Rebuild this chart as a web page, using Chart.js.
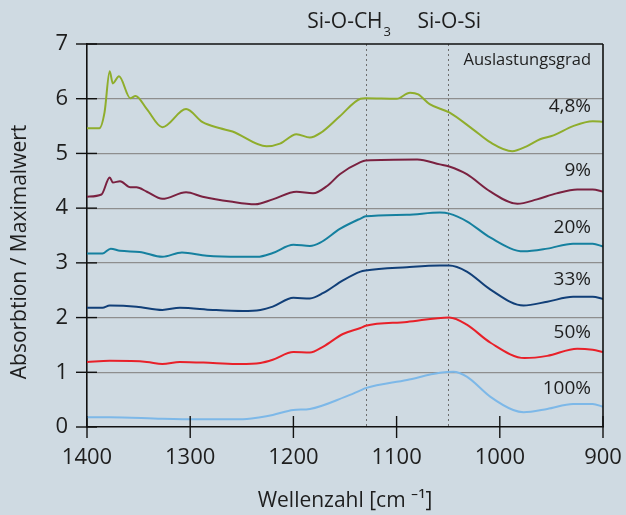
<!DOCTYPE html>
<html>
<head>
<meta charset="utf-8">
<script src="https://cdn.jsdelivr.net/npm/chart.js@4/dist/chart.umd.min.js"></script>
<style>
  html, body { margin: 0; padding: 0; background: #cfdae2; }
  #wrap { width: 626px; height: 515px; position: relative; }
</style>
</head>
<body>
<div id="wrap"><canvas id="chartSpektren"></canvas></div>
<script>
// Spektren je Auslastungsgrad (Wellenzahl / Absorption)
const labels = ['4,8%', '9%', '20%', '33%', '50%', '100%'];

const wz48 = [1400, 1388, 1383, 1378, 1375, 1369, 1358, 1353, 1342, 1327, 1304, 1288, 1271, 1259, 1226, 1213, 1197, 1184, 1174, 1155, 1135, 1130, 1100, 1087, 1079, 1068, 1049, 1026, 1009, 988, 974, 961, 948, 929, 910, 900];
const ab48 = [5.46, 5.46, 5.75, 6.50, 6.28, 6.41, 6.01, 6.05, 5.81, 5.48, 5.81, 5.57, 5.46, 5.40, 5.13, 5.18, 5.35, 5.29, 5.37, 5.68, 6.00, 6.01, 6.00, 6.11, 6.08, 5.90, 5.75, 5.44, 5.20, 5.04, 5.13, 5.26, 5.33, 5.50, 5.59, 5.58];

const wz9 = [1400, 1386, 1378, 1375, 1368, 1358, 1352, 1342, 1327, 1304, 1288, 1261, 1237, 1220, 1197, 1181, 1167, 1155, 1135, 1130, 1080, 1058, 1049, 1032, 1009, 983, 964, 945, 925, 910, 900];
const ab9 = [4.21, 4.25, 4.56, 4.47, 4.49, 4.38, 4.38, 4.30, 4.17, 4.29, 4.21, 4.12, 4.07, 4.16, 4.30, 4.27, 4.41, 4.62, 4.84, 4.87, 4.89, 4.80, 4.76, 4.62, 4.30, 4.08, 4.16, 4.27, 4.34, 4.34, 4.30];

const wz20 = [1400, 1385, 1377, 1368, 1349, 1327, 1308, 1284, 1252, 1235, 1220, 1200, 1184, 1174, 1155, 1135, 1130, 1090, 1058, 1049, 1032, 1009, 977, 954, 929, 910, 900];
const ab20 = [3.17, 3.17, 3.26, 3.22, 3.20, 3.11, 3.19, 3.13, 3.11, 3.11, 3.18, 3.33, 3.31, 3.37, 3.62, 3.81, 3.85, 3.88, 3.92, 3.90, 3.76, 3.46, 3.21, 3.26, 3.35, 3.35, 3.30];

const wz33 = [1400, 1385, 1378, 1352, 1327, 1310, 1278, 1249, 1232, 1220, 1200, 1184, 1171, 1152, 1135, 1130, 1090, 1058, 1049, 1032, 1009, 977, 954, 929, 910, 900];
const ab33 = [2.18, 2.18, 2.22, 2.20, 2.14, 2.18, 2.14, 2.12, 2.14, 2.20, 2.36, 2.35, 2.45, 2.68, 2.84, 2.86, 2.92, 2.95, 2.95, 2.84, 2.51, 2.22, 2.29, 2.38, 2.38, 2.34];

const wz50 = [1400, 1378, 1342, 1327, 1310, 1278, 1252, 1232, 1220, 1200, 1184, 1171, 1152, 1135, 1130, 1090, 1049, 1032, 1009, 976, 954, 925, 910, 900];
const ab50 = [1.19, 1.21, 1.19, 1.15, 1.19, 1.17, 1.15, 1.17, 1.23, 1.37, 1.36, 1.47, 1.70, 1.81, 1.85, 1.92, 2.00, 1.87, 1.54, 1.26, 1.30, 1.43, 1.41, 1.37];

const wz100 = [1400, 1378, 1327, 1293, 1252, 1232, 1220, 1200, 1184, 1150, 1135, 1130, 1090, 1058, 1045, 1032, 1009, 987, 977, 954, 929, 910, 900];
const ab100 = [0.18, 0.18, 0.15, 0.14, 0.14, 0.18, 0.22, 0.31, 0.33, 0.55, 0.67, 0.71, 0.86, 0.99, 1.01, 0.92, 0.55, 0.31, 0.27, 0.33, 0.42, 0.42, 0.37];

// Beschriftung rechts (Hoehe in Datenwerten)
const labelY = [5.86, 4.69, 3.64, 2.69, 1.72, 0.71];
const colors = ['#8fad2c', '#7a2140', '#15809f', '#113f78', '#e82029', '#7db8e8'];

// Banden (gestrichelte Linien) und Kopfbeschriftung: [Text, Index]
const bandX = [1130, 1050];
const bandLabels = [['Si-O-CH', '3'], ['Si-O-Si', '']];
const bandLabelX = [1146, 1049];

const xTicks = [1400, 1300, 1200, 1100, 1000, 900];
const yTicks = [0, 1, 2, 3, 4, 5, 6, 7];

const FONT = "'Open Sans', 'Noto Sans', sans-serif";
const TXT = '#1e1e1e';
const seriesX = [wz48, wz9, wz20, wz33, wz50, wz100];
const seriesY = [ab48, ab9, ab20, ab33, ab50, ab100];

const datasets = labels.map((lab, i) => ({
    label: lab,
    data: seriesX[i].map((x, j) => ({ x: x, y: seriesY[i][j] })),
    borderColor: colors[i],
    borderWidth: 2,
    pointRadius: 0,
    fill: false,
    tension: 0.4,
    cubicInterpolationMode: 'monotone'
}));

const decor = {
    id: 'decor',
    beforeDatasetsDraw(chart) {
        const { ctx, chartArea: a, scales: { x } } = chart;
        ctx.save();
        ctx.strokeStyle = '#6e6e6e';
        ctx.lineWidth = 1;
        ctx.setLineDash([2, 3]);
        bandX.forEach(v => {
            const px = Math.round(x.getPixelForValue(v)) + 0.5;
            ctx.beginPath();
            ctx.moveTo(px, a.top);
            ctx.lineTo(px, a.bottom);
            ctx.stroke();
        });
        ctx.restore();
    },
    afterDraw(chart) {
        const { ctx, chartArea: a, scales: { x, y } } = chart;
        ctx.save();
        ctx.strokeStyle = '#111';
        ctx.lineWidth = 1.6;
        // Rahmen oben / rechts
        ctx.beginPath();
        ctx.moveTo(a.left, a.top); ctx.lineTo(a.right, a.top);
        ctx.moveTo(a.right, a.top); ctx.lineTo(a.right, a.bottom);
        ctx.stroke();
        // Striche kreuzen die Achsen
        ctx.lineWidth = 1.4;
        yTicks.forEach(v => {
            const py = y.getPixelForValue(v);
            ctx.beginPath(); ctx.moveTo(a.left - 11, py); ctx.lineTo(a.left + 10, py); ctx.stroke();
        });
        xTicks.forEach(v => {
            const px = x.getPixelForValue(v);
            ctx.beginPath(); ctx.moveTo(px, a.bottom - 11); ctx.lineTo(px, a.bottom + 11); ctx.stroke();
        });

        ctx.fillStyle = TXT;
        ctx.textBaseline = 'middle';
        ctx.textAlign = 'left';
        bandLabels.forEach(([t, sub], i) => {
            ctx.font = '21px ' + FONT;
            const w1 = ctx.measureText(t).width;
            ctx.font = '13px ' + FONT;
            const w2 = sub ? ctx.measureText(sub).width + 1 : 0;
            const x0 = x.getPixelForValue(bandLabelX[i]) - (w1 + w2) / 2;
            ctx.font = '21px ' + FONT;
            ctx.fillText(t, x0, 22);
            if (sub) { ctx.font = '13px ' + FONT; ctx.fillText(sub, x0 + w1 + 1, 32); }
        });

        // Achsentitel
        ctx.textAlign = 'center';
        ctx.font = '21px ' + FONT;
        ctx.fillText('Wellenzahl [cm \u207B\u00B9]', (a.left + a.right) / 2, 501);
        ctx.save();
        ctx.translate(20, 252);
        ctx.rotate(-Math.PI / 2);
        ctx.fillText('Absorbtion / Maximalwert', 0, 0);
        ctx.restore();

        ctx.textAlign = 'right';
        ctx.font = '16.5px ' + FONT;
        ctx.fillText('Auslastungsgrad', a.right - 12, 60);
        ctx.font = '19px ' + FONT;
        labels.forEach((t, i) => ctx.fillText(t, a.right - 12, y.getPixelForValue(labelY[i])));
        ctx.restore();
    }
};

const ctx1 = document.getElementById('chartSpektren').getContext('2d');
new Chart(ctx1, {
    type: 'line',
    data: { datasets: datasets },
    plugins: [decor],
    options: {
        responsive: true,
        maintainAspectRatio: false,
        animation: false,
        layout: { padding: { top: 44, right: 23, left: 0, bottom: 0 } },
        plugins: { legend: { display: false }, tooltip: { enabled: false } },
        scales: {
            x: {
                type: 'linear',
                reverse: true,
                min: 900,
                max: 1400,
                afterFit: s => { s.height = 88; s.paddingLeft = 0; s.paddingRight = 0; },
                afterBuildTicks: s => { s.ticks = xTicks.map(v => ({ value: v })); },
                grid: { display: false, drawTicks: false },
                border: { color: '#111', width: 1.6 },
                ticks: { padding: 18, color: TXT, font: { family: FONT, size: 22 }, maxRotation: 0, callback: v => String(v) }
            },
            y: {
                min: 0,
                max: 7,
                afterFit: s => { s.width = 87; s.paddingTop = 0; s.paddingBottom = 0; },
                afterBuildTicks: s => { s.ticks = yTicks.map(v => ({ value: v })); },
                grid: {
                    drawTicks: false,
                    color: c => (c.tick.value === 0 || c.tick.value === 7) ? 'rgba(0,0,0,0)' : '#8e8e8e',
                    lineWidth: 1.2
                },
                border: { color: '#111', width: 1.6 },
                ticks: { padding: 19, color: TXT, font: { family: FONT, size: 22 }, callback: v => String(v) }
            }
        }
    }
});
</script>
</body>
</html>
